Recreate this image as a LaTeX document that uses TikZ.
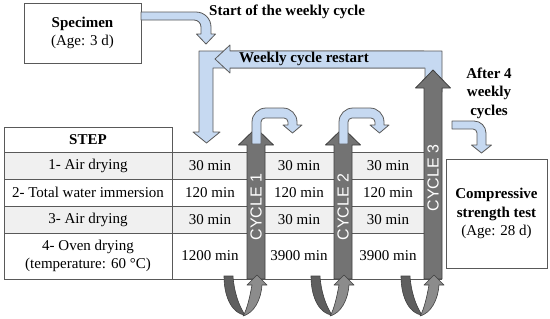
\documentclass[tikz,border=0pt]{standalone}
\usepackage{fontspec}
\setmainfont{Liberation Serif}
\newfontfamily\cyclefont{Liberation Sans}
\begin{document}
\begin{tikzpicture}[x=1pt,y=-1pt,font=\fontsize{15}{18.5}\selectfont,
  gras/.style={font=\fontsize{15}{18.5}\selectfont\bfseries},
  trait/.style={draw=gristrait,line width=0.7pt},
  boite/.style={draw=gristrait,line width=0.8pt,fill=white,align=center},
  fleche/.style={fill=bleuclair,draw=gristrait,line width=0.8pt,line join=round},
  barre/.style={fill=grisbarre,draw=grisbord,line width=0.8pt,line join=round},
  cyclelabel/.style={font=\fontsize{16}{19}\cyclefont,text=white,rotate=90,inner sep=0pt}]
\definecolor{bleuclair}{RGB}{198,217,241}
\definecolor{gristrait}{RGB}{89,89,89}
\definecolor{grisbarre}{RGB}{115,115,115}
\definecolor{grisbord}{RGB}{64,64,64}
\definecolor{grisfonce}{RGB}{95,95,95}
\definecolor{grisclair}{RGB}{140,140,140}
\definecolor{lignegris}{RGB}{240,240,240}
\useasboundingbox (0,0) rectangle (550,319);
% table
\fill[lignegris] (4,152) rectangle (442,179);
\fill[lignegris] (4,206) rectangle (442,233);
\foreach \y in {152,179,206,233,279}
  \draw[trait] (4,\y) -- (442,\y);
\draw[trait] (4,127) rectangle (172,152);
\draw[trait] (4,152) -- (4,279);
\draw[trait] (172,152) -- (172,279);
\node[gras,inner sep=0pt] (step) at (88,140) {STEP};
\foreach \y/\t [count=\i] in {165.5/1- Air drying,192.5/2- Total water immersion,219.5/3- Air drying}
  \node[inner sep=0pt] (etape\i) at (88,\y) {\t};
\node[align=center,inner sep=0pt] (etape4) at (88,256) {4- Oven drying\\(temperature: 60 °C)};
\foreach \x/\d [count=\j] in {210/1200,299/3900,388/3900} {
  \node[inner sep=0pt] (duree\j-1) at (\x,165.5) {30 min};
  \node[inner sep=0pt] (duree\j-2) at (\x,192.5) {120 min};
  \node[inner sep=0pt] (duree\j-3) at (\x,219.5) {30 min};
  \node[inner sep=0pt] (duree\j-4) at (\x,256) {\d\ min};
}
% boxes
\node[boite,minimum width=117pt,minimum height=60pt] (specimen) at (82.5,33)
  {\textbf{Specimen}\\(Age: 3 d)};
\node[boite,minimum width=101pt,minimum height=109pt] (essai) at (496.5,213.5)
  {\textbf{Compressive}\\\textbf{strength test}\\(Age: 28 d)};
% start of the cycle
\draw[fleche] (141,12) -- (196,12) .. controls (204.3,12) and (211,18.7) .. (211,27)
  -- (211,34) -- (215.5,34) -- (206,44) -- (196.5,34) -- (201,34) -- (201,27)
  .. controls (201,23.1) and (197.9,20) .. (194,20) -- (141,20) -- cycle;
\node[gras,anchor=west,inner sep=0pt] (debut) at (209,12) {Start of the weekly cycle};
% weekly loop
\draw[fleche] (442,51) -- (442,92) -- (425,92) -- (425,68) -- (213,68) -- (213,132)
  -- (220,132) -- (206.5,143) -- (193,132) -- (199,132) -- (199,51) -- cycle;
\draw[fleche] (424,51) -- (230,51) -- (230,45) -- (215,59) -- (230,73) -- (230,68) -- (424,68);
\node[gras,inner sep=0pt] (retour) at (304,59) {Weekly cycle restart};
% cycles
\foreach \c/\h/\p/\n/\l in {256/145/128/1/207,343/145/128/2/207,433/88/70/3/178} {
  \draw[barre] (\c-9,279) -- (\c-9,\h) -- (\c-17.5,\h) -- (\c,\p) -- (\c+17.5,\h)
    -- (\c+9,\h) -- (\c+9,279) -- cycle;
  \node[cyclelabel] (cycle\n) at (\c,\l) {CYCLE \n};
}
\foreach \d in {0,87} {
  \begin{scope}[shift={(\d,0)}]
    \draw[fleche] (252,144) -- (252,122) .. controls (252,114.3) and (258.3,108) .. (266,108)
      -- (283,108) .. controls (290.7,108) and (297,114.3) .. (297,122) -- (297,125)
      -- (302,125) -- (292.5,133) -- (283,125) -- (288,125) -- (288,122)
      .. controls (288,119.8) and (286.2,118) .. (284,118) -- (265,118)
      .. controls (262.8,118) and (261,119.8) .. (261,122) -- (261,144) -- cycle;
  \end{scope}
}
\foreach \c in {256,343,433} {
  \begin{scope}[shift={(\c,0)}]
    \draw[fill=grisfonce,draw=grisbord,line width=0.6pt] (-32,276) -- (-23,276)
      .. controls (-22,292) and (-17,306) .. (-11,315) .. controls (-22,314) and (-32,300) .. cycle;
    \draw[fill=grisclair,draw=grisbord,line width=0.6pt,line join=round] (-13,316)
      .. controls (-9,310) and (-6,296) .. (-4,285) -- (-9,285) -- (1,275) -- (11,285) -- (6,285)
      .. controls (5,300) and (-2,313) .. cycle;
  \end{scope}
}
% end
\draw[fleche] (452,121) -- (474,121) .. controls (480.6,121) and (486,126.4) .. (486,133)
  -- (486,145) -- (491.5,145) -- (481.5,153) -- (471.5,145) -- (477,145) -- (477,133)
  .. controls (477,130.8) and (475.2,129) .. (473,129) -- (452,129) -- cycle;
\node[gras,align=center,inner sep=0pt] (apres) at (489,93) {After 4\\weekly\\cycles};
\end{tikzpicture}
\end{document}
